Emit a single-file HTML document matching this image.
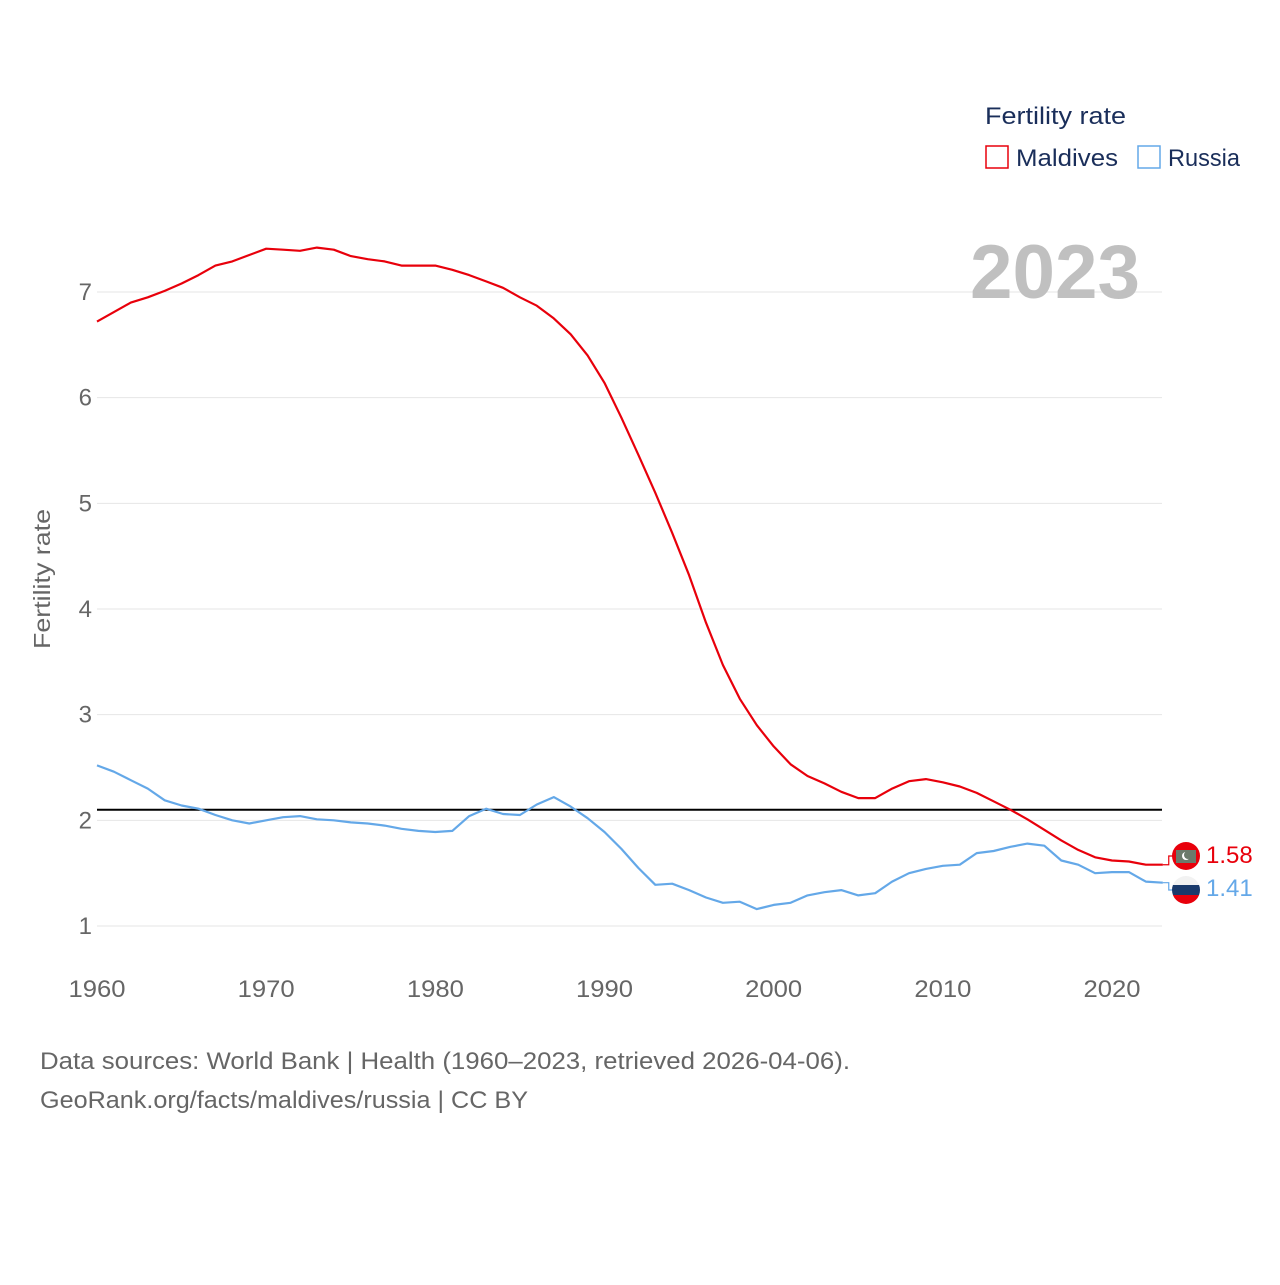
<!DOCTYPE html>
<html><head><meta charset="utf-8"><style>
body{margin:0;background:#fff;font-family:"Liberation Sans",sans-serif}
svg text{font-family:"Liberation Sans",sans-serif}
</style></head><body>
<svg width="1280" height="1280" xmlns="http://www.w3.org/2000/svg">
<g id="grid"></g>
<g id="yticks"></g>
<g id="xticks"></g>
<text x="50" y="579" transform="rotate(-90 50 579)" text-anchor="middle" font-size="23" fill="#666" textLength="140" lengthAdjust="spacingAndGlyphs">Fertility rate</text>
<text x="970" y="298" font-size="76" font-weight="bold" fill="#c0c0c0" textLength="170" lengthAdjust="spacingAndGlyphs">2023</text>
<line id="refline" x1="97" x2="1162" stroke="#000" stroke-width="2"/>
<g id="series"></g>
<g>
<text x="985" y="124" font-size="24" fill="#1a2e5a" textLength="141" lengthAdjust="spacingAndGlyphs">Fertility rate</text>
<g><rect x="986" y="146" width="22" height="22" fill="none" stroke="#e8000b" stroke-width="1.5"/><text x="1016" y="166" font-size="24" fill="#1a2e5a" textLength="102" lengthAdjust="spacingAndGlyphs">Maldives</text></g>
<g><rect x="1138" y="146" width="22" height="22" fill="none" stroke="#64a8e8" stroke-width="1.5"/><text x="1168" y="166" font-size="24" fill="#1a2e5a" textLength="72" lengthAdjust="spacingAndGlyphs">Russia</text></g>
</g>
<g>
<circle cx="1186" cy="856" r="14" fill="#e8000b"/>
<rect x="1176" y="850" width="20" height="13" fill="#6b7a6b"/>
<circle cx="1186" cy="856" r="4" fill="#fff"/><circle cx="1188" cy="855" r="4" fill="#6b7a6b"/>
<clipPath id="rc"><circle cx="1186" cy="890" r="14"/></clipPath>
<g clip-path="url(#rc)"><rect x="1172" y="876" width="28" height="9" fill="#f2f2f2"/><rect x="1172" y="885" width="28" height="10" fill="#1a3a6b"/><rect x="1172" y="895" width="28" height="10" fill="#e8000b"/></g>
<text id="lblM" x="1206" y="863" font-size="24" fill="#e8000b"></text>
<text id="lblR" x="1206" y="896" font-size="24" fill="#64a8e8"></text>
</g>
<text x="40" y="1069" font-size="24" fill="#666" textLength="810" lengthAdjust="spacingAndGlyphs">Data sources: World Bank | Health (1960–2023, retrieved 2026-04-06).</text>
<text x="40" y="1108" font-size="24" fill="#666" textLength="488" lengthAdjust="spacingAndGlyphs">GeoRank.org/facts/maldives/russia | CC BY</text>
</svg>
<script>
const startYear = 1960;
const maldives = [6.72,6.81,6.90,6.95,7.01,7.08,7.16,7.25,7.29,7.35,7.41,7.40,7.39,7.42,7.40,7.34,7.31,7.29,7.25,7.25,7.25,7.21,7.16,7.10,7.04,6.95,6.87,6.75,6.60,6.40,6.14,5.81,5.46,5.10,4.72,4.32,3.87,3.47,3.15,2.90,2.70,2.53,2.42,2.35,2.27,2.21,2.21,2.30,2.37,2.39,2.36,2.32,2.26,2.18,2.10,2.01,1.91,1.81,1.72,1.65,1.62,1.61,1.58,1.58];
const russia = [2.52,2.46,2.38,2.30,2.19,2.14,2.11,2.05,2.00,1.97,2.00,2.03,2.04,2.01,2.00,1.98,1.97,1.95,1.92,1.90,1.89,1.90,2.04,2.11,2.06,2.05,2.15,2.22,2.13,2.02,1.89,1.73,1.55,1.39,1.40,1.34,1.27,1.22,1.23,1.16,1.20,1.22,1.29,1.32,1.34,1.29,1.31,1.42,1.50,1.54,1.57,1.58,1.69,1.71,1.75,1.78,1.76,1.62,1.58,1.50,1.51,1.51,1.42,1.41];
const yTicks = [1,2,3,4,5,6,7];
const xTicks = [1960,1970,1980,1990,2000,2010,2020];
const replacement = 2.1;
const NS="http://www.w3.org/2000/svg";
const X = yr => 97 + (yr-1960)*(1015/60);
const Y = v => 926 - (v-1)*(634/6);
function mk(t,a,p){const e=document.createElementNS(NS,t);for(const k in a)e.setAttribute(k,a[k]);p.appendChild(e);return e;}
const grid=document.getElementById('grid'), yt=document.getElementById('yticks'), xt=document.getElementById('xticks');
yTicks.forEach(v=>{
  const l=mk('line',{x1:97,x2:1162,y1:Y(v),y2:Y(v),stroke:'#e6e6e6','stroke-width':1},grid);
  
  
  const t=mk('text',{x:92,y:Y(v)+8,'text-anchor':'end','font-size':24,fill:'#666'},yt);
  
  
  t.textContent=v;
});
xTicks.forEach(v=>{
  const t=mk('text',{x:X(v),y:997,'text-anchor':'middle','font-size':24,fill:'#666',textLength:57,lengthAdjust:'spacingAndGlyphs'},xt);
  
  
  t.textContent=v;
});
const rl=document.getElementById('refline');rl.setAttribute('y1',Y(replacement));rl.setAttribute('y2',Y(replacement));
function line(data,color,name,my){
  const pts=data.map((v,i)=>X(startYear+i).toFixed(1)+','+Y(v).toFixed(1));
  const last=data[data.length-1], lx=X(startYear+data.length-1);
  const p=mk('polyline',{points:pts.join(' '),fill:'none',stroke:color,'stroke-width':2.2,'stroke-linejoin':'round'},document.getElementById('series'));
  
  
  const c=mk('polyline',{points:`${lx},${Y(last)} ${lx+6},${Y(last)} ${lx+6},${my} 1174,${my}`,fill:'none',stroke:color,'stroke-width':1.2},document.getElementById('series'));
  
  
}
line(maldives,'#e8000b','maldives-line',856);
line(russia,'#64a8e8','russia-line',890);
document.getElementById('lblM').textContent=maldives[maldives.length-1].toFixed(2);
document.getElementById('lblR').textContent=russia[russia.length-1].toFixed(2);
</script>
</body></html>
